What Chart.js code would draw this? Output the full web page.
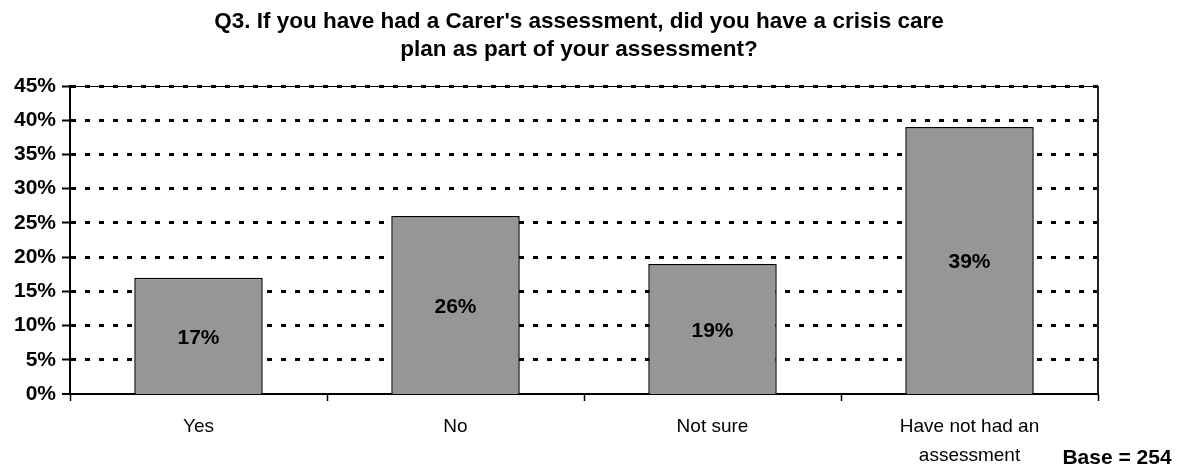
<!DOCTYPE html>
<html>
<head>
<meta charset="utf-8">
<script src="https://cdn.jsdelivr.net/npm/chart.js@4.4.1/dist/chart.umd.min.js"></script>
<style>
  html, body { margin: 0; padding: 0; background: #ffffff; }
  #wrap { width: 1189px; height: 474px; }
</style>
</head>
<body>
<div id="wrap"><canvas id="chart" width="1189" height="474"></canvas></div>
<script>
// Survey answers and their shares of respondents (%)
const categories = ['Yes', 'No', 'Not sure', ['Have not had an', 'assessment']];
const percentages = [17, 26, 19, 39];
const yAxisMax = 45;
const yAxisStep = 5;
const titleLines = [
  "Q3. If you have had a Carer's assessment, did you have a crisis care",
  'plan as part of your assessment?'
];
const baseNote = 'Base = 254';

const FONT = '"Liberation Sans", Arial, Helvetica, sans-serif';

// Title, sample-size note, value labels and the plot frame
const annotations = {
  id: 'annotations',
  afterDatasetsDraw(chart) {
    const { ctx, chartArea } = chart;
    ctx.save();
    // frame: solid top edge and right edge
    ctx.strokeStyle = '#000';
    ctx.lineWidth = 1;
    ctx.beginPath();
    ctx.moveTo(chartArea.left, chartArea.top + 0.5);
    ctx.lineTo(chartArea.right, chartArea.top + 0.5);
    ctx.stroke();
    ctx.strokeStyle = '#222';
    ctx.lineWidth = 2;
    ctx.beginPath();
    ctx.moveTo(chartArea.right, chartArea.top);
    ctx.lineTo(chartArea.right, chartArea.bottom);
    ctx.stroke();

    // value labels centred in each bar
    ctx.fillStyle = '#000';
    ctx.font = 'bold 21px ' + FONT;
    ctx.textAlign = 'center';
    ctx.textBaseline = 'middle';
    const meta = chart.getDatasetMeta(0);
    meta.data.forEach((bar, i) => {
      const v = chart.data.datasets[0].data[i];
      ctx.fillText(v + '%', bar.x, (bar.y + bar.base) / 2 + 2);
    });
    ctx.restore();
  },
  afterDraw(chart) {
    const { ctx } = chart;
    ctx.save();
    ctx.fillStyle = '#000';
    ctx.textAlign = 'center';
    ctx.textBaseline = 'middle';
    ctx.font = 'bold 22.5px ' + FONT;
    titleLines.forEach((line, i) => ctx.fillText(line, 579, 22 + i * 28));
    ctx.font = 'bold 21px ' + FONT;
    ctx.fillText(baseNote, 1117, 458);
    ctx.restore();
  }
};

new Chart(document.getElementById('chart'), {
  type: 'bar',
  data: {
    labels: categories,
    datasets: [{
      data: percentages,
      backgroundColor: '#969696',
      borderColor: '#000',
      borderWidth: 1.5,
      barPercentage: 0.5,
      categoryPercentage: 1.0
    }]
  },
  options: {
    responsive: false,
    animation: false,
    layout: { padding: { top: 86, right: 91, bottom: 0, left: 0 } },
    plugins: {
      legend: { display: false },
      title: { display: false },
      tooltip: { enabled: false }
    },
    scales: {
      x: {
        offset: true,
        afterFit(scale) { scale.height = 80; },
        grid: {
          offset: true,
          drawOnChartArea: false,
          drawTicks: true,
          tickLength: 7,
          tickColor: '#000',
          tickWidth: 1.5
        },
        border: { display: true, color: '#000', width: 2 },
        ticks: {
          color: '#000',
          padding: 11,
          maxRotation: 0,
          autoSkip: false,
          font: { family: FONT, size: 19, lineHeight: 1.55 }
        }
      },
      y: {
        min: 0,
        max: yAxisMax,
        afterFit(scale) { scale.width = 70; },
        grid: {
          color: '#000',
          lineWidth: (c) => (c.tick && c.tick.value === 0 ? 0 : 3),
          drawTicks: true,
          tickLength: 8,
          tickColor: '#000',
          tickWidth: 2,
          tickBorderDash: []
        },
        border: { display: true, color: '#000', width: 2, dash: [5, 9] },
        ticks: {
          stepSize: yAxisStep,
          color: '#000',
          padding: 6,
          font: { family: FONT, size: 21, weight: 'bold' },
          callback: (v) => v + '%'
        }
      }
    }
  },
  plugins: [annotations]
});
</script>
</body>
</html>
